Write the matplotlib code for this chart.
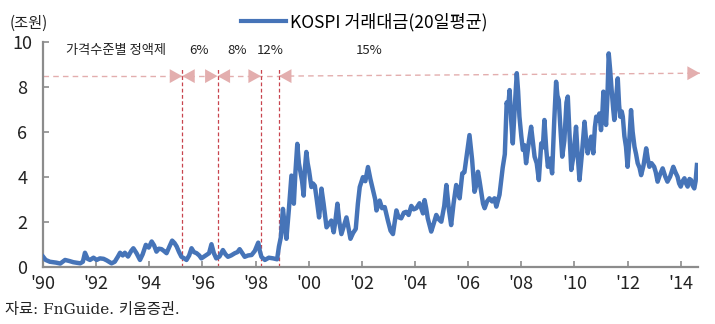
import matplotlib
matplotlib.use("Agg")
import matplotlib.pyplot as plt

plt.rcParams['font.family'] = ['Noto Sans CJK KR', 'DejaVu Sans']

# ---- data (decimal year, trillion KRW) ----
years = [
    1990.00, 1990.10, 1990.26, 1990.50, 1990.65, 1990.83, 1991.00, 1991.14, 1991.40, 1991.50,
    1991.58, 1991.68, 1991.77, 1991.90, 1992.02, 1992.14, 1992.28, 1992.40, 1992.58, 1992.70,
    1992.82, 1992.90, 1993.00, 1993.08, 1993.20, 1993.32, 1993.40, 1993.52, 1993.65, 1993.75,
    1993.87, 1993.98, 1994.09, 1994.18, 1994.27, 1994.36, 1994.46, 1994.55, 1994.65, 1994.76,
    1994.86, 1994.95, 1995.03, 1995.12, 1995.21, 1995.30, 1995.40, 1995.50, 1995.59, 1995.68,
    1995.78, 1995.88, 1995.96, 1996.06, 1996.15, 1996.25, 1996.34, 1996.43, 1996.52, 1996.64,
    1996.77, 1996.87, 1996.96, 1997.08, 1997.22, 1997.32, 1997.40, 1997.50, 1997.59, 1997.72,
    1997.85, 1997.97, 1998.10, 1998.16, 1998.22, 1998.35, 1998.50, 1998.66, 1998.81, 1998.88,
    1998.95, 1999.03, 1999.10, 1999.16, 1999.25, 1999.35, 1999.44, 1999.50, 1999.57, 1999.63,
    1999.69, 1999.75, 1999.81, 1999.86, 1999.91, 1999.96, 2000.01, 2000.10, 2000.16, 2000.23,
    2000.30, 2000.39, 2000.44, 2000.48, 2000.56, 2000.67, 2000.76, 2000.85, 2000.94, 2001.00,
    2001.08, 2001.15, 2001.23, 2001.32, 2001.42, 2001.50, 2001.57, 2001.67, 2001.77, 2001.85,
    2001.92, 2002.04, 2002.13, 2002.23, 2002.32, 2002.42, 2002.50, 2002.55, 2002.67, 2002.76,
    2002.86, 2002.98, 2003.08, 2003.17, 2003.30, 2003.38, 2003.48, 2003.58, 2003.67, 2003.76,
    2003.86, 2003.95, 2004.05, 2004.17, 2004.30, 2004.36, 2004.42, 2004.48, 2004.61, 2004.70,
    2004.80, 2004.90, 2004.99, 2005.10, 2005.18, 2005.27, 2005.36, 2005.45, 2005.55, 2005.62,
    2005.68, 2005.78, 2005.86, 2005.93, 2006.05, 2006.15, 2006.24, 2006.30, 2006.37, 2006.43,
    2006.49, 2006.56, 2006.62, 2006.71, 2006.80, 2006.90, 2006.99, 2007.06, 2007.18, 2007.30,
    2007.38, 2007.45, 2007.50, 2007.56, 2007.62, 2007.68, 2007.75, 2007.83, 2007.88, 2007.93,
    2008.00, 2008.06, 2008.12, 2008.18, 2008.28, 2008.37, 2008.44, 2008.50, 2008.58, 2008.66,
    2008.75, 2008.81, 2008.87, 2008.94, 2009.00, 2009.08, 2009.16, 2009.24, 2009.31, 2009.36,
    2009.41, 2009.48, 2009.54, 2009.62, 2009.70, 2009.75, 2009.81, 2009.88, 2009.96, 2010.06,
    2010.12, 2010.19, 2010.28, 2010.38, 2010.44, 2010.50, 2010.57, 2010.63, 2010.71, 2010.77,
    2010.82, 2010.88, 2010.94, 2011.00, 2011.05, 2011.09, 2011.14, 2011.19, 2011.24, 2011.29,
    2011.34, 2011.40, 2011.46, 2011.50, 2011.56, 2011.63, 2011.68, 2011.72, 2011.78, 2011.82,
    2011.88, 2011.94, 2012.00, 2012.06, 2012.13, 2012.19, 2012.26, 2012.32, 2012.38, 2012.45,
    2012.51, 2012.60, 2012.70, 2012.76, 2012.82, 2012.90, 2013.00, 2013.06, 2013.13, 2013.22,
    2013.32, 2013.42, 2013.50, 2013.60, 2013.72, 2013.80, 2013.88, 2013.94, 2014.00, 2014.07,
    2014.14, 2014.20, 2014.26, 2014.33, 2014.39, 2014.45, 2014.51, 2014.56, 2014.61,
]
turnover = [
    0.45, 0.30, 0.22, 0.18, 0.14, 0.30, 0.25, 0.20, 0.15, 0.22,
    0.62, 0.35, 0.30, 0.40, 0.30, 0.37, 0.35, 0.28, 0.15, 0.22,
    0.45, 0.62, 0.50, 0.62, 0.45, 0.70, 0.82, 0.60, 0.30, 0.55,
    0.97, 0.85, 1.12, 0.95, 0.67, 0.80, 0.78, 0.70, 0.60, 0.90,
    1.16, 1.05, 0.90, 0.65, 0.44, 0.38, 0.30, 0.50, 0.82, 0.65,
    0.60, 0.50, 0.37, 0.45, 0.52, 0.60, 1.00, 0.60, 0.37, 0.45,
    0.74, 0.55, 0.44, 0.50, 0.60, 0.65, 0.78, 0.60, 0.44, 0.50,
    0.52, 0.70, 1.07, 0.70, 0.44, 0.30, 0.40, 0.37, 0.33, 0.90,
    1.30, 2.57, 1.80, 1.24, 2.50, 4.05, 2.80, 4.20, 5.46, 4.60,
    4.20, 3.80, 3.16, 4.40, 5.10, 4.60, 4.28, 3.54, 3.70, 3.60,
    3.00, 2.19, 2.80, 3.47, 2.80, 1.75, 1.90, 2.05, 1.53, 2.00,
    2.80, 2.00, 1.45, 1.80, 2.19, 1.70, 1.24, 1.50, 1.68, 2.80,
    3.54, 3.98, 3.80, 4.43, 3.90, 3.39, 3.00, 2.50, 2.94, 2.60,
    2.65, 2.05, 1.60, 1.45, 2.50, 2.20, 2.15, 2.40, 2.44, 2.30,
    2.70, 2.55, 2.60, 2.82, 2.37, 2.96, 2.60, 2.15, 1.56, 1.90,
    2.30, 2.10, 2.00, 2.70, 3.63, 2.60, 1.85, 2.80, 3.63, 3.30,
    3.04, 4.15, 4.20, 4.81, 5.85, 4.74, 3.33, 3.60, 4.22, 3.80,
    3.33, 2.80, 2.60, 2.90, 3.04, 2.90, 3.04, 2.67, 3.20, 4.40,
    5.00, 7.30, 7.00, 7.85, 6.50, 5.48, 7.00, 8.60, 7.80, 6.67,
    5.80, 5.19, 5.40, 4.60, 5.50, 6.22, 5.50, 4.89, 4.60, 3.85,
    5.48, 5.30, 6.52, 5.20, 4.44, 4.80, 4.15, 6.50, 8.22, 7.60,
    7.41, 6.00, 4.89, 5.60, 7.30, 7.56, 6.00, 4.30, 4.90, 6.22,
    5.00, 3.85, 5.00, 6.44, 5.60, 5.04, 5.50, 5.78, 5.04, 6.20,
    6.67, 6.50, 6.81, 6.07, 6.80, 7.78, 7.00, 6.30, 7.50, 9.48,
    8.80, 7.85, 7.00, 6.52, 7.40, 8.37, 7.20, 6.67, 6.90, 6.67,
    5.80, 5.33, 4.44, 5.50, 6.96, 6.00, 5.33, 5.00, 4.60, 4.40,
    4.07, 4.50, 5.26, 4.80, 4.44, 4.60, 4.44, 4.20, 3.78, 4.10,
    4.37, 4.00, 3.78, 4.00, 4.44, 4.20, 4.00, 3.70, 3.56, 3.80,
    3.93, 3.70, 3.56, 3.90, 3.85, 3.60, 3.48, 3.80, 4.52,
]

tick_years = [1990, 1992, 1994, 1996, 1998, 2000, 2002, 2004, 2006, 2008, 2010, 2012, 2014]
tick_labels = ["'90", "'92", "'94", "'96", "'98", "'00", "'02", "'04", "'06", "'08", "'10", "'12", "'14"]
y_ticks = [0, 2, 4, 6, 8, 10]

regime_changes = [1995.24, 1996.57, 1998.20, 1998.88]
regime_labels = ["가격수준별 정액제", "6%", "8%", "12%", "15%"]
regime_label_x = [1992.74, 1995.86, 1997.31, 1998.56, 2002.26]

series_name = "KOSPI 거래대금(20일평균)"
unit_label = "(조원)"
source_text = "자료: FnGuide. 키움증권."

# ---- figure ----
W, H = 715, 324
fig = plt.figure(figsize=(W / 100, H / 100), dpi=100)
ax = fig.add_axes([43 / W, 1 - 266.7 / H, (698 - 43) / W, (266.7 - 41.7) / H])

line_color = '#4674B8'
gray = '#8C8C8C'
pink = '#E3AEAE'
red = '#C8444E'

ax.plot(years, turnover, color=line_color, lw=3.2, solid_joinstyle='round', zorder=3)

ax.set_xlim(1990, 2014.65)
ax.set_ylim(0, 10)

# vertical regime lines
for xv in regime_changes:
    ax.plot([xv, xv], [0, 8.8], color=red, lw=0.9, ls=(0, (3, 2)), zorder=2)

# horizontal dashed band with arrows
arrow_y = 8.47
x_end = 2014.72
ax.plot([1990, regime_changes[3]], [arrow_y, arrow_y], color=pink, lw=1.0, ls=(0, (4, 3)), zorder=1, clip_on=False)
ax.plot([regime_changes[3], x_end], [arrow_y, 8.6], color=pink, lw=1.0, ls=(0, (4, 3)), zorder=1, clip_on=False)

head = dict(arrowstyle='-|>,head_length=0.9,head_width=0.5', color=pink, lw=0,
            mutation_scale=10, shrinkA=0, shrinkB=0)

def arrowhead(tip_x, tip_y, direction):
    ax.annotate('', xy=(tip_x, tip_y), xytext=(tip_x - 0.6 * direction, tip_y),
                arrowprops=head, annotation_clip=False, zorder=1)

arrowhead(regime_changes[0], arrow_y, +1)
arrowhead(regime_changes[0], arrow_y, -1)
arrowhead(regime_changes[1], arrow_y, +1)
arrowhead(regime_changes[1], arrow_y, -1)
arrowhead(regime_changes[2], arrow_y, +1)
arrowhead(regime_changes[3], arrow_y, -1)
arrowhead(x_end, 8.6, +1)

# regime labels
label_y = [9.59, 9.59, 9.59, 9.59, 9.63]
for lx, ly, lt in zip(regime_label_x, label_y, regime_labels):
    ax.text(lx, ly, lt, ha='center', va='center', fontsize=9.5, color='#222222')

# axes styling
for s in ['top', 'right']:
    ax.spines[s].set_visible(False)
for s in ['left', 'bottom']:
    ax.spines[s].set_color(gray)
    ax.spines[s].set_linewidth(1.6)

ax.set_xticks(tick_years)
ax.set_xticklabels(tick_labels)
ax.set_yticks(y_ticks)
ax.tick_params(axis='both', direction='in', length=4, width=1.2, color=gray,
               labelsize=13, labelcolor='#222222')
ax.tick_params(axis='x', pad=6)
ax.tick_params(axis='y', pad=15)
for lab in ax.get_yticklabels():
    lab.set_horizontalalignment('center')

# legend
from matplotlib.lines import Line2D
handle = Line2D([], [], color=line_color, lw=3.0)
fig.legend([handle], [series_name], loc='center left',
           bbox_to_anchor=(241 / W, 1 - 22 / H), frameon=False, fontsize=12.5,
           handlelength=2.6, handletextpad=0.25, borderpad=0, borderaxespad=0)

fig.text(10 / W, 1 - 23 / H, unit_label, ha='left', va='center', fontsize=11, color='#222222')
fig.text(5 / W, 1 - 310 / H, source_text, ha='left', va='center', fontsize=11,
         color='#222222', family=['DejaVu Serif', 'Noto Sans CJK KR'])

fig.savefig('out.png', dpi=100)
